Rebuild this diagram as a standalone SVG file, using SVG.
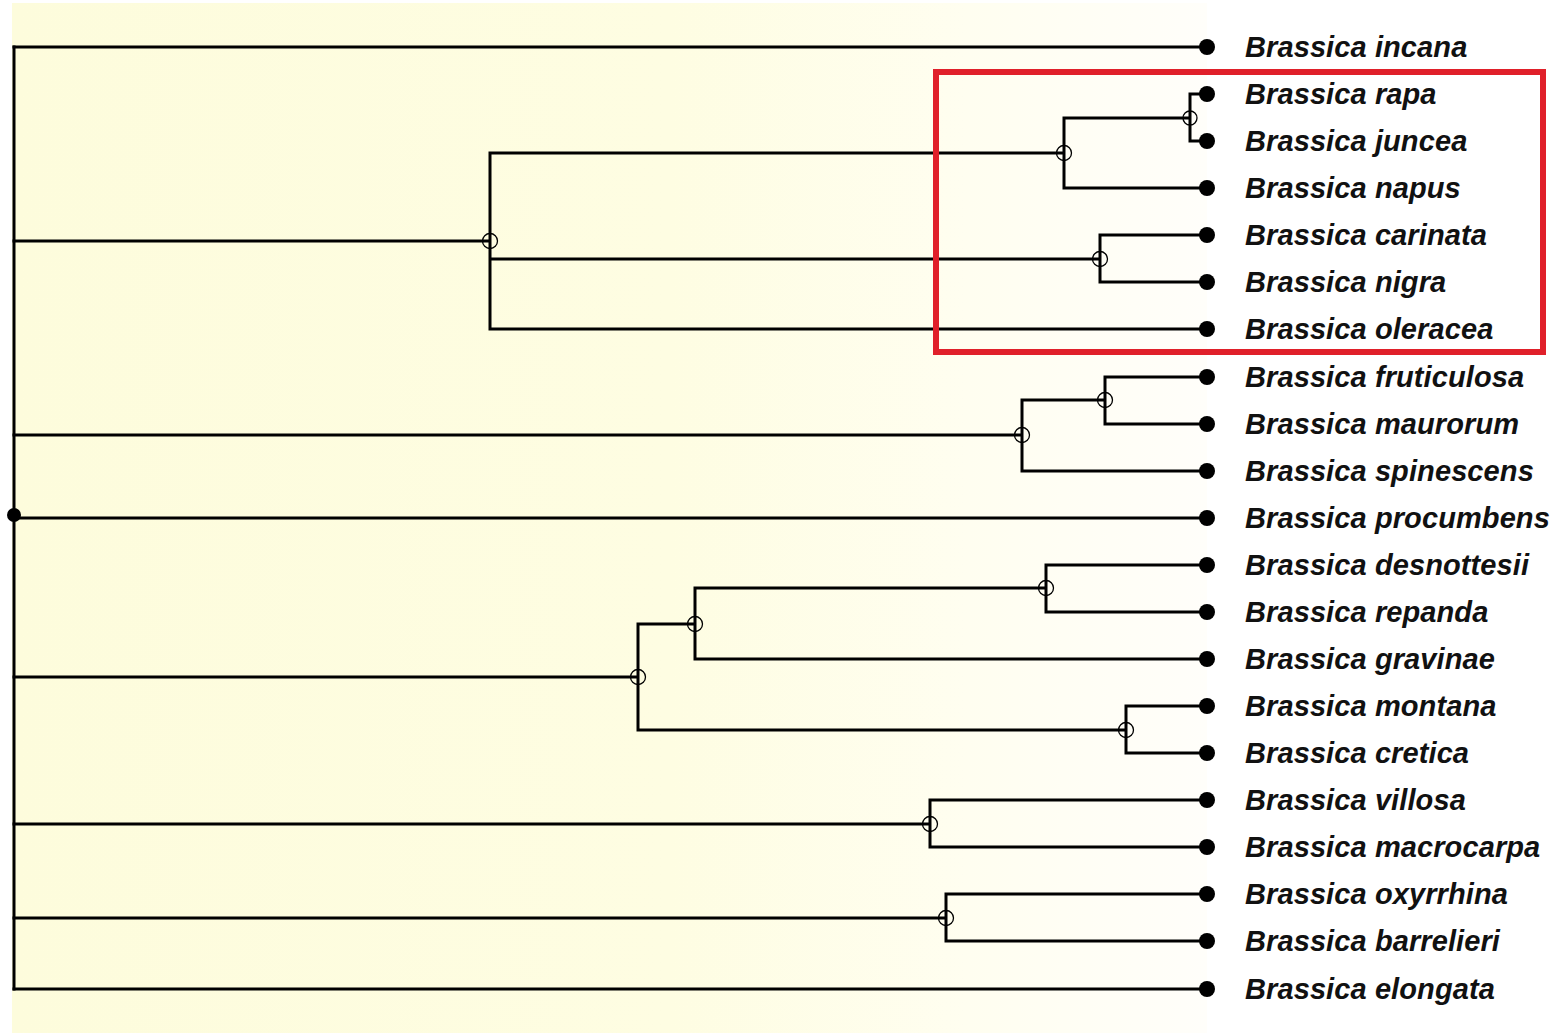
<svg xmlns="http://www.w3.org/2000/svg" width="1563" height="1033" viewBox="0 0 1563 1033">
<defs>
<linearGradient id="bg" x1="0" y1="0" x2="1" y2="0">
<stop offset="0" stop-color="#fdfcdc"/>
<stop offset="0.55" stop-color="#fefde2"/>
<stop offset="0.8" stop-color="#fffef0"/>
<stop offset="1" stop-color="#fffefa"/>
</linearGradient>
<style>
.br{fill:none;stroke:#000;stroke-width:3;stroke-linecap:square}
.nd{fill:none;stroke:#000;stroke-width:1.3}
.tip{fill:#000}
.lb{font-family:"Liberation Sans",Arial,sans-serif;font-size:29px;font-weight:bold;font-style:italic;fill:#111;letter-spacing:0.1px}
</style>
</defs>
<rect width="1563" height="1033" fill="#fff"/>
<rect x="12" y="3" width="1195" height="1030" fill="url(#bg)"/>
<g id="connectors">
<path class="br" d="M14,47V989"/>
<path class="br" d="M14,47H1207"/>
<path class="br" d="M14,241H490M490,153V329M490,153H1064M1064,118V188M1064,118H1190M1190,94V141M1190,94H1207M1190,141H1207M1064,188H1207M490,259H1100M1100,235V282M1100,235H1207M1100,282H1207M490,329H1207"/>
<path class="br" d="M14,435H1022M1022,400V471M1022,400H1105M1105,377V424M1105,377H1207M1105,424H1207M1022,471H1207"/>
<path class="br" d="M14,518H1207"/>
<path class="br" d="M14,677H638M638,624V730M638,624H695M695,588V659M695,588H1046M1046,565V612M1046,565H1207M1046,612H1207M695,659H1207M638,730H1126M1126,706V753M1126,706H1207M1126,753H1207"/>
<path class="br" d="M14,824H930M930,800V847M930,800H1207M930,847H1207"/>
<path class="br" d="M14,918H946M946,894V941M946,894H1207M946,941H1207"/>
<path class="br" d="M14,989H1207"/>
</g>
<g id="internal-nodes">
<circle id="root" cx="14" cy="515" r="7" class="tip"/>
<circle class="nd" cx="490" cy="241" r="7.5"/>
<circle class="nd" cx="1064" cy="153" r="7.5"/>
<circle class="nd" cx="1190" cy="118" r="7"/>
<circle class="nd" cx="1100" cy="259" r="7.5"/>
<circle class="nd" cx="1022" cy="435" r="7.5"/>
<circle class="nd" cx="1105" cy="400" r="7.5"/>
<circle class="nd" cx="638" cy="677" r="7.5"/>
<circle class="nd" cx="695" cy="624" r="7.5"/>
<circle class="nd" cx="1046" cy="588" r="7.5"/>
<circle class="nd" cx="1126" cy="730" r="7.5"/>
<circle class="nd" cx="930" cy="824" r="7.5"/>
<circle class="nd" cx="946" cy="918" r="7.5"/>
</g>
<g id="leaf-incana"><circle class="tip" cx="1207" cy="47" r="8"/><text class="lb" x="1245" y="57">Brassica incana</text></g>
<g id="leaf-rapa"><circle class="tip" cx="1207" cy="94" r="8"/><text class="lb" x="1245" y="104">Brassica rapa</text></g>
<g id="leaf-juncea"><circle class="tip" cx="1207" cy="141" r="8"/><text class="lb" x="1245" y="151">Brassica juncea</text></g>
<g id="leaf-napus"><circle class="tip" cx="1207" cy="188" r="8"/><text class="lb" x="1245" y="198">Brassica napus</text></g>
<g id="leaf-carinata"><circle class="tip" cx="1207" cy="235" r="8"/><text class="lb" x="1245" y="245">Brassica carinata</text></g>
<g id="leaf-nigra"><circle class="tip" cx="1207" cy="282" r="8"/><text class="lb" x="1245" y="292">Brassica nigra</text></g>
<g id="leaf-oleracea"><circle class="tip" cx="1207" cy="329" r="8"/><text class="lb" x="1245" y="339">Brassica oleracea</text></g>
<g id="leaf-fruticulosa"><circle class="tip" cx="1207" cy="377" r="8"/><text class="lb" x="1245" y="387">Brassica fruticulosa</text></g>
<g id="leaf-maurorum"><circle class="tip" cx="1207" cy="424" r="8"/><text class="lb" x="1245" y="434">Brassica maurorum</text></g>
<g id="leaf-spinescens"><circle class="tip" cx="1207" cy="471" r="8"/><text class="lb" x="1245" y="481">Brassica spinescens</text></g>
<g id="leaf-procumbens"><circle class="tip" cx="1207" cy="518" r="8"/><text class="lb" x="1245" y="528">Brassica procumbens</text></g>
<g id="leaf-desnottesii"><circle class="tip" cx="1207" cy="565" r="8"/><text class="lb" x="1245" y="575">Brassica desnottesii</text></g>
<g id="leaf-repanda"><circle class="tip" cx="1207" cy="612" r="8"/><text class="lb" x="1245" y="622">Brassica repanda</text></g>
<g id="leaf-gravinae"><circle class="tip" cx="1207" cy="659" r="8"/><text class="lb" x="1245" y="669">Brassica gravinae</text></g>
<g id="leaf-montana"><circle class="tip" cx="1207" cy="706" r="8"/><text class="lb" x="1245" y="716">Brassica montana</text></g>
<g id="leaf-cretica"><circle class="tip" cx="1207" cy="753" r="8"/><text class="lb" x="1245" y="763">Brassica cretica</text></g>
<g id="leaf-villosa"><circle class="tip" cx="1207" cy="800" r="8"/><text class="lb" x="1245" y="810">Brassica villosa</text></g>
<g id="leaf-macrocarpa"><circle class="tip" cx="1207" cy="847" r="8"/><text class="lb" x="1245" y="857">Brassica macrocarpa</text></g>
<g id="leaf-oxyrrhina"><circle class="tip" cx="1207" cy="894" r="8"/><text class="lb" x="1245" y="904">Brassica oxyrrhina</text></g>
<g id="leaf-barrelieri"><circle class="tip" cx="1207" cy="941" r="8"/><text class="lb" x="1245" y="951">Brassica barrelieri</text></g>
<g id="leaf-elongata"><circle class="tip" cx="1207" cy="989" r="8"/><text class="lb" x="1245" y="999">Brassica elongata</text></g>
<rect id="highlight" x="936" y="72" width="607" height="280" fill="none" stroke="#e0202a" stroke-width="6"/>
</svg>
